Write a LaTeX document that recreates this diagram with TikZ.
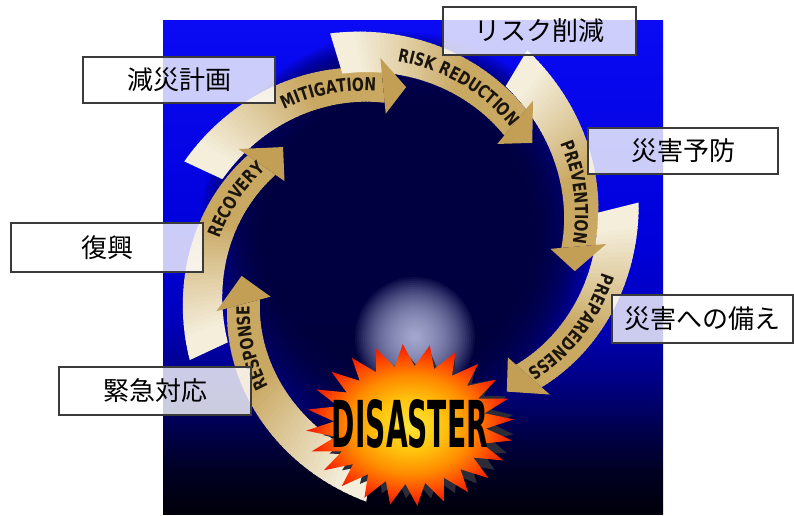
\documentclass[tikz,border=0pt]{standalone}
\usepackage{fontspec}
\usepackage{graphicx}
\usetikzlibrary{decorations.text}

\newfontfamily\jpfont{Noto Sans CJK JP}
\newfontfamily\arcfont[FakeStretch=0.78]{DejaVu Sans}
\newcommand\arcstyle{\arcfont\bfseries\fontsize{18pt}{20pt}\selectfont}

% palette
\definecolor{sky0}{HTML}{00000A}
\definecolor{sky1}{HTML}{000024}
\definecolor{sky2}{HTML}{00004C}
\definecolor{sky3}{HTML}{000084}
\definecolor{sky4}{HTML}{0000BA}
\definecolor{sky5}{HTML}{0000DA}
\definecolor{sky6}{HTML}{0A0AF4}
\definecolor{core}{HTML}{000038}
\definecolor{glow}{HTML}{D8DEFF}
\definecolor{bandcream}{HTML}{F4EEDB}
\definecolor{bandgold}{HTML}{C9A862}
\definecolor{headgold}{HTML}{C39F55}
\definecolor{labelink}{HTML}{1B150D}
\definecolor{burst0}{HTML}{FFE53A}
\definecolor{burst1}{HTML}{FFC40E}
\definecolor{burst2}{HTML}{FF8C00}
\definecolor{burst3}{HTML}{FF4A00}
\definecolor{burst4}{HTML}{F01800}
\definecolor{burstshadow}{HTML}{2C2C38}
\definecolor{boxline}{HTML}{3A3A3A}

% backdrop: bright blue above, black below
\pgfdeclareverticalshading{skyfall}{100bp}{color(0bp)=(sky0); color(25bp)=(sky0); color(29.5bp)=(sky1); color(33.5bp)=(sky2); color(38.5bp)=(sky3); color(44.5bp)=(sky4); color(52bp)=(sky5); color(75bp)=(sky6); color(100bp)=(sky6)}
% starburst: yellow core, red tips
\pgfdeclareradialshading{burstfill}{\pgfpointorigin}{color(0bp)=(burst0); color(8bp)=(burst1); color(15bp)=(burst2); color(20.5bp)=(burst3); color(25bp)=(burst4); color(50bp)=(burst4)}

% spiral band of one cycle arrow: tail angle, tail radius, base angle, base radius
\newcommand\cycbody[4]{%
  \foreach \k in {0,...,47}{%
    \pgfmathsetmacro\fracA{\k/48}%
    \pgfmathsetmacro\fracB{min((\k+1.3)/48,1)}%
    \pgfmathsetmacro\angA{(#1)+((#3)-(#1))*\fracA}%
    \pgfmathsetmacro\angB{(#1)+((#3)-(#1))*\fracB}%
    \pgfmathsetmacro\radA{(#2)+((#4)-(#2))*\fracA}%
    \pgfmathsetmacro\radB{(#2)+((#4)-(#2))*\fracB}%
    \pgfmathsetmacro\halfA{21-4*\fracA}%
    \pgfmathsetmacro\halfB{21-4*\fracB}%
    \pgfmathsetmacro\mixv{max(0,min(100,(\fracA-0.08)*190))}%
    \fill[bandgold!\mixv!bandcream] ({\angA}:{\radA-\halfA}) -- ({\angA}:{\radA+\halfA}) -- ({\angB}:{\radB+\halfB}) -- ({\angB}:{\radB-\halfB}) -- cycle;%
  }%
}
% arrow head: base angle, base radius, tip angle, tip radius
\newcommand\cychead[4]{%
  \fill[headgold] ({#1}:{#2-28}) -- ({#3}:{#4}) -- ({#1}:{#2+28}) -- cycle;%
}
% word along the band: word, span start, span end, tail angle, tail radius, base angle, base radius
\newcommand\cyctext[7]{%
  \path[decorate, decoration={text along path, text align=center, text color=labelink, text={|\arcstyle|#1}}]
    plot[domain=0:1, samples=80, variable=\t]
    ({(#2)+((#3)-(#2))*\t}:{(#5)+((#7)-(#5))*(((#2)+((#3)-(#2))*\t)-(#4))/((#6)-(#4))-6.5});%
}

\begin{document}
\begin{tikzpicture}[x=1pt,y=1pt,
  labelbox/.style={draw=boxline, line width=1.2pt, fill=white, fill opacity=0.8,
    text opacity=1, text=black, inner sep=0pt,
    font=\jpfont\fontsize{26pt}{30pt}\selectfont}]
\useasboundingbox (0,0) rectangle (794,515);

% backdrop square
\shade[shading=skyfall] (163,1) rectangle (663,494);

% dark hollow inside the cycle
\foreach \r in {198,196,...,136}{
  \fill[core, fill opacity=0.075] (398,285) circle[radius=\r];
}
% pale glow above the burst
\foreach \r in {60,58,...,4}{
  \fill[glow, fill opacity=0.05] (415,178) circle[radius=\r];
}

\begin{scope}[shift={(400,253)}]
  % bands
  \cycbody{155}{217}{95.5}{177}
  \cycbody{107}{218}{50.5}{181}
  \cycbody{59}{226}{5}{179}
  \cycbody{14}{225}{-41.5}{172}
  \cycbody{262}{221}{195}{162}
  \cycbody{205}{211}{145}{169}
  % heads
  \cychead{95.5}{177}{88}{175}
  \cychead{50.5}{181}{42}{178}
  \cychead{5}{179}{-3}{175}
  \cychead{-41.5}{172}{-50.5}{168}
  \cychead{195}{162}{185}{159}
  \cychead{145}{169}{135.5}{164}
  % words
  \cyctext{MITIGATION}{136}{88}{155}{217}{95.5}{177}
  \cyctext{RISK REDUCTION}{98}{42}{107}{218}{50.5}{181}
  \cyctext{PREVENTION}{45}{-4}{59}{226}{5}{179}
  \cyctext{PREPAREDNESS}{5}{-50.5}{14}{225}{-41.5}{172}
  \cyctext{RESPONSE}{232}{186}{262}{221}{195}{162}
  \cyctext{RECOVERY}{181}{136}{205}{211}{145}{169}
\end{scope}

% starburst with its dark back spikes
\fill[burstshadow] plot[domain=0:47, samples=48, variable=\j]
  ({418+(86+10*cos(\j*180))*cos(\j*7.5+7.75)}, {90+(66+8*cos(\j*180))*sin(\j*7.5+7.75)}) -- cycle;
\shade[shading=burstfill] plot[domain=0:47, samples=48, variable=\j]
  ({410+(90+14*cos(\j*180))*cos(\j*7.5+4)}, {90+(70+11*cos(\j*180))*sin(\j*7.5+4)}) -- cycle;
\node[inner sep=0pt, text=black] (disaster) at (410,91)
  {\resizebox{156pt}{48pt}{\arcfont\bfseries DISASTER}};

% Japanese captions
\node[labelbox, minimum width=193pt, minimum height=48pt] (cap-risk) at (539.5,484) {リスク削減};
\node[labelbox, minimum width=192pt, minimum height=46pt] (cap-mitig) at (179,435) {減災計画};
\node[labelbox, minimum width=190pt, minimum height=46pt] (cap-prev) at (683,364) {災害予防};
\node[labelbox, minimum width=192pt, minimum height=49pt] (cap-recov) at (107,267.5) {復興};
\node[labelbox, minimum width=181pt, minimum height=48pt] (cap-prep) at (702.5,196) {災害への備え};
\node[labelbox, minimum width=192pt, minimum height=48pt] (cap-resp) at (155,124) {緊急対応};
\end{tikzpicture}
\end{document}
